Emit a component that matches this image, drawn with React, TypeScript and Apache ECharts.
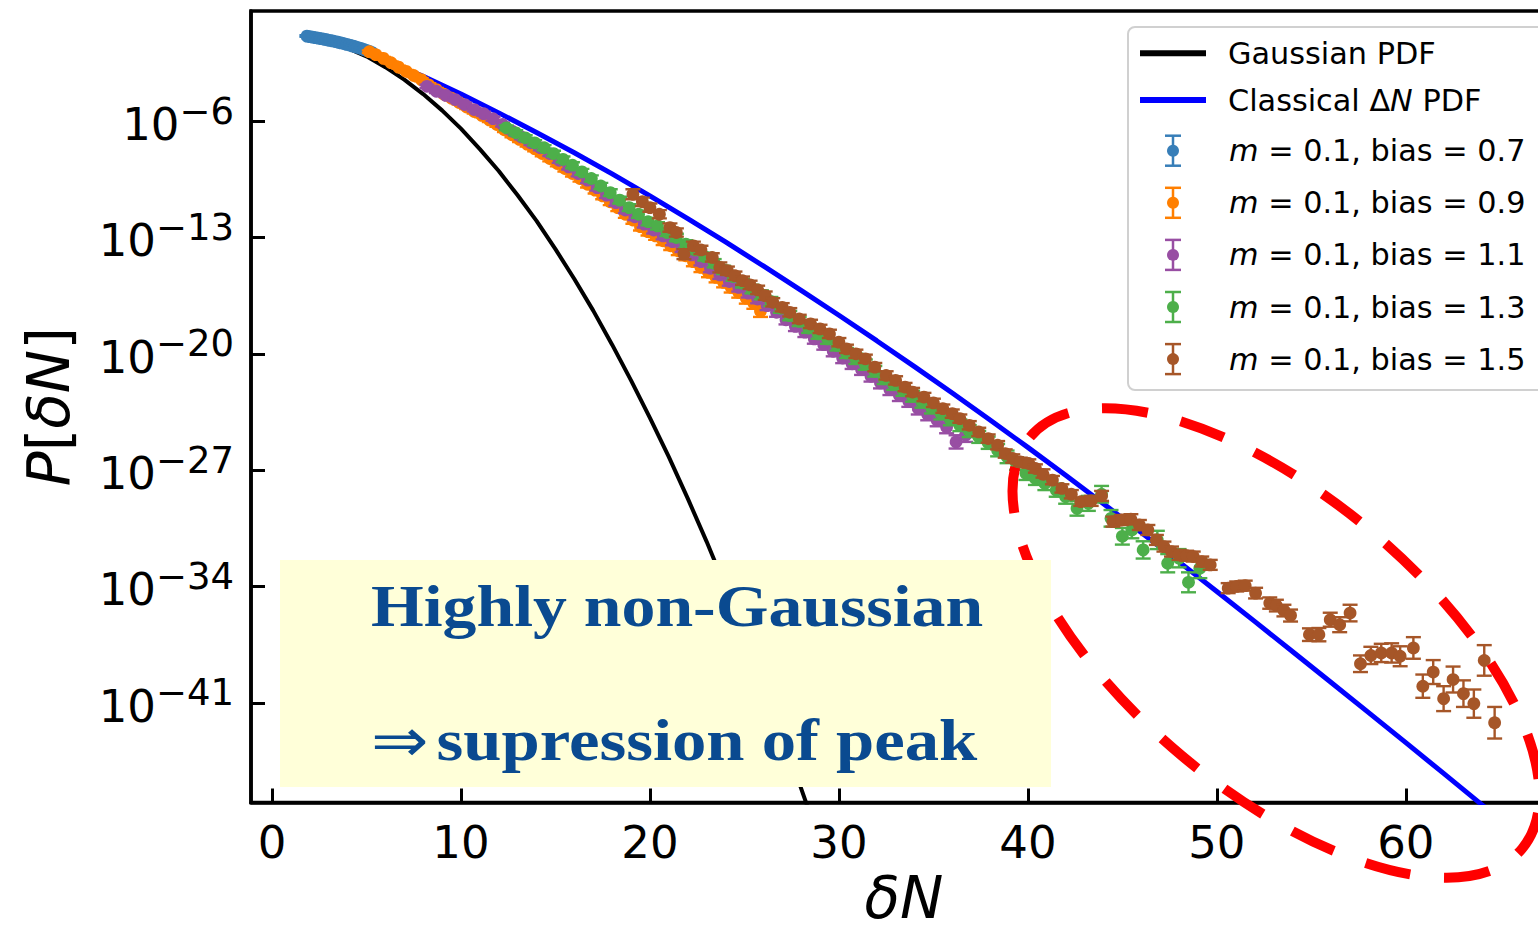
import React, { useEffect, useRef } from "react";
import * as echarts from "echarts";

// ---------- data (y values are log10 P) ----------
const xTicks = [0, 10, 20, 30, 40, 50, 60];
const yTicks = [-41, -34, -27, -20, -13, -6];

const gaussianPDF: number[][] = [
  [2, -0.9], [3, -1.18], [4, -1.6], [5, -2.1], [6, -2.75], [7, -3.5], [8, -4.37], [9, -5.35],
  [10, -6.45], [11, -7.68], [12, -9.0], [13, -10.46], [14, -12.0], [15, -13.7], [16, -15.5],
  [17, -17.4], [18, -19.45], [19, -21.6], [20, -23.85], [21, -26.2], [22, -28.7], [23, -31.3],
  [24, -34.05], [25, -36.9], [26, -39.85], [27, -42.95], [28, -46.15], [29, -49.4],
];

const classicalPDF: number[][] = [
  [2, -0.9], [4, -1.54], [6, -2.36], [8, -3.3], [10, -4.36], [12, -5.5], [14, -6.68], [16, -7.9],
  [18, -9.17], [20, -10.49], [22, -11.86], [24, -13.27], [26, -14.71], [28, -16.18], [30, -17.68],
  [32, -19.21], [34, -20.77], [36, -22.36], [38, -23.98], [40, -25.63], [42, -27.31], [44, -29.02],
  [46, -30.76], [48, -32.52], [50, -34.3], [52, -36.1], [54, -37.91], [56, -39.73], [58, -41.56],
  [60, -43.4], [62, -45.25], [64, -47.11], [66, -48.98],
];

// [x, log10 P, error half-width in decades]
const bias07: number[][] = [
  [1.85, -0.88, 0.05], [2.0, -0.91, 0.05], [2.15, -0.94, 0.05], [2.3, -0.97, 0.05], [2.45, -1.0, 0.05],
  [2.6, -1.03, 0.05], [2.75, -1.07, 0.05], [2.9, -1.1, 0.05], [3.05, -1.14, 0.05], [3.2, -1.17, 0.05],
  [3.35, -1.21, 0.05], [3.5, -1.25, 0.06], [3.65, -1.29, 0.06], [3.8, -1.33, 0.06], [3.95, -1.38, 0.06],
  [4.1, -1.42, 0.06], [4.25, -1.47, 0.06], [4.4, -1.52, 0.07], [4.55, -1.57, 0.07], [4.7, -1.62, 0.07],
  [4.85, -1.68, 0.08], [5.0, -1.74, 0.08], [5.15, -1.8, 0.09], [5.3, -1.87, 0.1],
];

const bias09: number[][] = [
  [5.15, -1.82, 0.08], [5.5, -2.0, 0.08], [5.9, -2.22, 0.08], [6.3, -2.48, 0.08], [6.7, -2.75, 0.09],
  [7.1, -3.0, 0.09], [7.5, -3.25, 0.1], [7.9, -3.5, 0.1], [8.3, -3.82, 0.1], [8.7, -4.1, 0.1],
  [9.1, -4.38, 0.1], [9.5, -4.62, 0.12], [9.9, -4.88, 0.12], [10.3, -5.15, 0.12], [10.7, -5.42, 0.12],
  [11.1, -5.65, 0.12], [11.5, -5.92, 0.14], [11.9, -6.2, 0.14], [12.3, -6.52, 0.14], [12.7, -6.82, 0.15],
  [13.1, -7.1, 0.15], [13.5, -7.38, 0.15], [13.9, -7.65, 0.16], [14.3, -7.95, 0.16], [14.7, -8.25, 0.17],
  [15.1, -8.55, 0.17], [15.5, -8.85, 0.18], [15.9, -9.15, 0.18], [16.3, -9.45, 0.19], [16.7, -9.8, 0.19],
  [17.1, -10.15, 0.2], [17.5, -10.5, 0.2], [17.9, -10.85, 0.2], [18.3, -11.2, 0.21], [18.7, -11.6, 0.22],
  [19.1, -11.95, 0.22], [19.5, -12.35, 0.23], [19.9, -12.65, 0.23], [20.3, -12.9, 0.24], [20.7, -13.2, 0.25],
  [21.1, -13.5, 0.25], [21.5, -13.8, 0.26], [21.9, -14.1, 0.27], [22.3, -14.45, 0.28], [22.7, -14.8, 0.28],
  [23.1, -15.1, 0.29], [23.5, -15.4, 0.3], [23.9, -15.7, 0.3], [24.3, -16.0, 0.31], [24.7, -16.3, 0.32],
  [25.1, -16.65, 0.33], [25.5, -16.95, 0.34], [25.85, -17.43, 0.35],
];

const bias11: number[][] = [
  [8.2, -3.9, 0.1], [8.7, -4.2, 0.1], [9.2, -4.45, 0.1], [9.7, -4.7, 0.1], [10.2, -5.0, 0.11],
  [10.7, -5.3, 0.11], [11.2, -5.55, 0.12], [11.7, -5.85, 0.12], [12.2, -6.2, 0.13], [12.7, -6.6, 0.13],
  [13.2, -6.95, 0.14], [13.7, -7.3, 0.14], [14.2, -7.6, 0.15], [14.7, -7.95, 0.15], [15.2, -8.35, 0.16],
  [15.7, -8.75, 0.16], [16.2, -9.15, 0.17], [16.7, -9.55, 0.17], [17.2, -10.0, 0.18], [17.7, -10.45, 0.18],
  [18.2, -10.9, 0.19], [18.7, -11.35, 0.19], [19.2, -11.75, 0.2], [19.7, -12.2, 0.2], [20.2, -12.55, 0.21],
  [20.7, -12.9, 0.21], [21.2, -13.25, 0.22], [21.7, -13.65, 0.22], [22.2, -14.05, 0.23], [22.7, -14.45, 0.23],
  [23.2, -14.85, 0.24], [23.7, -15.25, 0.24], [24.2, -15.65, 0.25], [24.7, -16.0, 0.25], [25.2, -16.35, 0.26],
  [25.7, -16.7, 0.26], [26.2, -17.1, 0.27], [26.7, -17.5, 0.27], [27.2, -17.95, 0.28], [27.7, -18.35, 0.28],
  [28.2, -18.7, 0.29], [28.7, -19.1, 0.29], [29.2, -19.45, 0.3], [29.7, -19.85, 0.3], [30.2, -20.25, 0.31],
  [30.7, -20.6, 0.31], [31.2, -20.95, 0.32], [31.7, -21.35, 0.32], [32.2, -21.75, 0.33], [32.7, -22.15, 0.33],
  [33.2, -22.5, 0.34], [33.7, -22.85, 0.34], [34.2, -23.3, 0.35], [34.7, -23.65, 0.35], [35.2, -24.0, 0.36],
  [35.7, -24.4, 0.38], [36.2, -25.3, 0.4], [36.7, -24.9, 0.4],
];

const bias13: number[][] = [
  [12.4, -6.4, 0.15], [12.9, -6.7, 0.15], [13.4, -7.0, 0.15], [13.9, -7.3, 0.16], [14.4, -7.6, 0.16],
  [14.9, -7.95, 0.17], [15.4, -8.3, 0.17], [15.9, -8.65, 0.18], [16.4, -9.05, 0.18], [16.9, -9.45, 0.19],
  [17.4, -9.9, 0.19], [17.9, -10.3, 0.2], [18.4, -10.75, 0.2], [18.9, -11.2, 0.21], [19.4, -11.6, 0.21],
  [19.9, -12.05, 0.22], [20.4, -12.3, 0.22], [20.9, -12.7, 0.22], [21.4, -13.0, 0.23], [21.9, -13.4, 0.23],
  [22.4, -13.75, 0.24], [22.9, -14.15, 0.24], [23.4, -14.55, 0.25], [23.9, -14.95, 0.25], [24.4, -15.35, 0.25],
  [24.9, -15.75, 0.26], [25.4, -16.1, 0.26], [25.9, -16.45, 0.27], [26.4, -16.85, 0.27], [26.9, -17.25, 0.28],
  [27.4, -17.7, 0.28], [27.9, -18.05, 0.28], [28.4, -18.45, 0.29], [28.9, -18.8, 0.29], [29.4, -19.1, 0.3],
  [29.9, -19.5, 0.3], [30.4, -19.95, 0.3], [30.9, -20.3, 0.31], [31.4, -20.65, 0.31], [31.9, -21.05, 0.32],
  [32.4, -21.5, 0.32], [32.9, -21.85, 0.32], [33.4, -22.2, 0.33], [33.9, -22.55, 0.33], [34.4, -22.9, 0.34],
  [34.9, -23.25, 0.34], [35.4, -23.6, 0.35], [35.9, -23.95, 0.35], [36.4, -24.3, 0.35], [36.9, -24.65, 0.36],
  [37.4, -25.0, 0.36], [37.9, -25.35, 0.37], [38.4, -25.8, 0.37], [38.9, -26.2, 0.38], [39.4, -26.6, 0.38],
  [39.9, -27.2, 0.39], [40.4, -27.5, 0.39], [40.9, -27.8, 0.4], [41.5, -28.2, 0.4], [42.0, -28.6, 0.42],
  [42.6, -29.3, 0.44], [43.2, -29.0, 0.45], [43.9, -28.45, 0.5], [44.4, -29.9, 0.5], [45.0, -30.98, 0.5],
  [45.5, -30.6, 0.5], [46.1, -31.8, 0.52], [46.85, -31.2, 0.55], [47.4, -32.6, 0.55], [48.0, -32.3, 0.55],
  [48.5, -33.75, 0.6], [49.1, -32.9, 0.6],
];

const bias15: number[][] = [
  [19.1, -10.4, 0.3], [19.6, -10.85, 0.25], [20.0, -11.2, 0.25], [20.5, -11.6, 0.25], [21.06, -12.4, 0.25],
  [21.4, -12.7, 0.25], [21.8, -14.0, 0.3], [22.3, -13.5, 0.25], [22.7, -13.75, 0.25], [23.3, -14.2, 0.25],
  [23.7, -14.8, 0.3], [24.1, -15.0, 0.25], [24.5, -15.3, 0.25], [24.9, -15.6, 0.25], [25.3, -15.85, 0.25],
  [25.7, -16.15, 0.25], [26.1, -16.5, 0.25], [26.5, -16.9, 0.25], [27.0, -17.2, 0.25], [27.4, -17.5, 0.25],
  [27.9, -17.9, 0.25], [28.5, -18.2, 0.25], [29.0, -18.5, 0.25], [29.5, -18.8, 0.25], [30.0, -19.3, 0.25],
  [30.4, -19.7, 0.25], [30.9, -20.0, 0.25], [31.4, -20.3, 0.25], [31.9, -20.8, 0.25], [32.5, -21.3, 0.25],
  [33.0, -21.6, 0.25], [33.5, -22.0, 0.25], [33.9, -22.3, 0.25], [34.5, -22.6, 0.25], [35.0, -22.95, 0.25],
  [35.5, -23.3, 0.25], [36.0, -23.6, 0.25], [36.4, -23.9, 0.25], [36.9, -24.3, 0.25], [37.4, -24.7, 0.25],
  [37.9, -25.1, 0.25], [38.4, -25.5, 0.25], [38.8, -26.0, 0.25], [39.2, -26.3, 0.25], [39.6, -26.5, 0.25],
  [40.05, -26.6, 0.25], [40.4, -26.9, 0.25], [40.8, -27.2, 0.25], [41.3, -27.6, 0.25], [41.8, -28.1, 0.25],
  [42.3, -28.45, 0.25], [42.8, -28.9, 0.25], [43.35, -28.85, 0.3], [43.9, -28.55, 0.3], [44.5, -30.1, 0.3],
  [44.95, -30.0, 0.3], [45.45, -29.95, 0.3], [45.9, -30.3, 0.3], [46.35, -30.6, 0.3], [46.8, -31.2, 0.3],
  [47.2, -31.6, 0.3], [47.6, -31.9, 0.3], [48.0, -32.1, 0.3], [48.4, -32.15, 0.3], [48.75, -32.2, 0.3],
  [49.2, -32.5, 0.3], [49.65, -32.7, 0.3], [50.6, -34.1, 0.3], [51.05, -34.0, 0.3], [51.5, -33.95, 0.3],
  [52.05, -34.4, 0.32], [52.8, -35.0, 0.34], [53.15, -35.15, 0.35], [53.55, -35.45, 0.35], [53.9, -35.75, 0.36],
  [54.9, -36.9, 0.38], [55.4, -36.9, 0.4], [56.0, -36.0, 0.42], [56.5, -36.3, 0.45], [57.05, -35.6, 0.5],
  [57.6, -38.65, 0.5], [58.15, -38.15, 0.52], [58.7, -38.0, 0.55], [59.25, -38.0, 0.58], [59.7, -38.2, 0.6],
  [60.4, -37.7, 0.65], [60.9, -40.0, 0.7], [61.45, -39.15, 0.72], [62.0, -40.75, 0.75], [62.5, -39.6, 0.78],
  [63.05, -40.45, 0.8], [63.6, -41.05, 0.85], [64.15, -38.45, 0.92], [64.7, -42.2, 0.95],
];

const lineNames = ["Gaussian PDF", "Classical ΔN PDF"];
const errNames = [
  "m = 0.1, bias = 0.7",
  "m = 0.1, bias = 0.9",
  "m = 0.1, bias = 1.1",
  "m = 0.1, bias = 1.3",
  "m = 0.1, bias = 1.5",
];
const errData = [bias07, bias09, bias11, bias13, bias15];
const errColors = ["#377eb8", "#ff7f00", "#984ea3", "#4daf4a", "#a65628"];
const lineColors = ["#000000", "#0000ff"];

const legendRich = {
  t: { fontFamily: "DejaVu Sans", fontSize: 30.3, fill: "#000", color: "#000" },
  i: { fontFamily: "DejaVu Sans", fontStyle: "italic", fontSize: 30.3, fill: "#000", color: "#000" },
};

function legendLabel(name: string): string {
  if (name === "Classical ΔN PDF") return "{t|Classical Δ}{i|N}{t| PDF}";
  if (name.startsWith("m = ")) return "{i|m}{t|" + name.slice(1) + "}";
  return "{t|" + name + "}";
}

function buildLegend(): any[] {
  const els: any[] = [];
  els.push({
    type: "rect",
    x: 1128,
    y: 27,
    z: 40,
    shape: { x: 0, y: 0, width: 430, height: 363, r: 7 },
    style: { fill: "rgba(255,255,255,0.85)", stroke: "#d0d0d0", lineWidth: 2 },
  });
  const lineYs = [53.3, 100];
  lineNames.forEach((n, i) => {
    els.push({
      type: "line",
      z: 41,
      shape: { x1: 1140, y1: lineYs[i], x2: 1206, y2: lineYs[i] },
      style: { stroke: lineColors[i], lineWidth: 6 },
    });
    els.push({
      type: "text",
      x: 1228,
      y: lineYs[i],
      z: 41,
      style: { text: legendLabel(n), rich: legendRich, align: "left", verticalAlign: "middle" },
    });
  });
  errNames.forEach((n, i) => {
    const cy = 150.7 + 52.1 * i;
    const c = errColors[i];
    const ls = { stroke: c, lineWidth: 2.5 };
    els.push({ type: "line", z: 41, shape: { x1: 1173, y1: cy - 15, x2: 1173, y2: cy + 15 }, style: ls });
    els.push({ type: "line", z: 41, shape: { x1: 1165, y1: cy - 15, x2: 1181, y2: cy - 15 }, style: ls });
    els.push({ type: "line", z: 41, shape: { x1: 1165, y1: cy + 15, x2: 1181, y2: cy + 15 }, style: ls });
    els.push({ type: "circle", z: 41, shape: { cx: 1173, cy, r: 6 }, style: { fill: c } });
    els.push({
      type: "text",
      x: 1229,
      y: cy,
      z: 41,
      style: { text: legendLabel(n), rich: legendRich, align: "left", verticalAlign: "middle" },
    });
  });
  return els;
}

function renderErr(params: any, api: any) {
  const x = api.value(0);
  const y = api.value(1);
  const e = api.value(2);
  const c = api.coord([x, y]);
  const top = api.coord([x, y + e])[1];
  const bot = api.coord([x, y - e])[1];
  const color = api.visual("color");
  const ls = { stroke: color, lineWidth: 2.4 };
  return {
    type: "group",
    children: [
      { type: "line", shape: { x1: c[0], y1: top, x2: c[0], y2: bot }, style: ls },
      { type: "line", shape: { x1: c[0] - 7.5, y1: top, x2: c[0] + 7.5, y2: top }, style: ls },
      { type: "line", shape: { x1: c[0] - 7.5, y1: bot, x2: c[0] + 7.5, y2: bot }, style: ls },
      { type: "circle", shape: { cx: c[0], cy: c[1], r: 6.4 }, style: { fill: color } },
    ],
  };
}

export default function App() {
  const ref = useRef<HTMLDivElement>(null);

  useEffect(() => {
    if (!ref.current) return;
    const chart = echarts.init(ref.current, null, { renderer: "svg" });

    const series: any[] = [
      {
        name: lineNames[0],
        type: "line",
        data: gaussianPDF,
        symbol: "none",
        lineStyle: { color: lineColors[0], width: 4 },
        itemStyle: { color: lineColors[0] },
        z: 2,
      },
      {
        name: lineNames[1],
        type: "line",
        data: classicalPDF,
        symbol: "none",
        lineStyle: { color: lineColors[1], width: 5 },
        itemStyle: { color: lineColors[1] },
        z: 2,
      },
      ...errData.map((d, i) => ({
        name: errNames[i],
        type: "custom",
        data: d,
        encode: { x: 0, y: 1 },
        renderItem: renderErr,
        itemStyle: { color: errColors[i] },
        clip: true,
        z: 3,
      })),
    ];

    const option: any = {
      animation: false,
      backgroundColor: "#ffffff",
      textStyle: { fontFamily: "DejaVu Sans" },
      grid: {
        left: 251,
        top: 11,
        right: -19,
        bottom: 128.5,
        containLabel: false,
        outerBoundsMode: "none",
        show: true,
        borderColor: "#000",
        borderWidth: 3.5,
        backgroundColor: "transparent",
      },
      xAxis: {
        type: "value",
        min: -1.11,
        max: 68,
        name: "{i|δN}",
        nameLocation: "middle",
        nameGap: 66,
        nameTextStyle: {
          rich: { i: { fontFamily: "DejaVu Sans", fontStyle: "italic", fontSize: 58, color: "#000", lineHeight: 58 } },
        },
        axisLine: { show: true, onZero: false, lineStyle: { color: "#000", width: 3.5 } },
        axisTick: { show: true, inside: true, length: 14, customValues: xTicks, lineStyle: { color: "#000", width: 3 } },
        axisLabel: {
          customValues: xTicks,
          margin: 17,
          fontSize: 45,
          fontFamily: "DejaVu Sans",
          color: "#000",
        },
        splitLine: { show: false },
      },
      yAxis: {
        type: "value",
        min: -47,
        max: 0.63,
        name: "{i|P}{n|[}{i|δN}{n|]}",
        nameLocation: "middle",
        nameGap: 173,
        nameTextStyle: {
          rich: {
            i: { fontFamily: "DejaVu Sans", fontStyle: "italic", fontSize: 58, color: "#000", lineHeight: 58 },
            n: { fontFamily: "DejaVu Sans", fontSize: 58, color: "#000", lineHeight: 58 },
          },
        },
        axisLine: { show: true, onZero: false, lineStyle: { color: "#000", width: 3.5 } },
        axisTick: { show: true, inside: true, length: 14, customValues: yTicks, lineStyle: { color: "#000", width: 3 } },
        axisLabel: {
          customValues: yTicks,
          margin: 17,
          formatter: (v: number) => "{b|10}{s|−" + Math.round(-v) + "}",
          rich: {
            b: {
              fontSize: 45, fontFamily: "DejaVu Sans", color: "#000",
              verticalAlign: "middle", lineHeight: 45, padding: [7, 0, 0, 0],
            },
            s: {
              fontSize: 37, fontFamily: "DejaVu Sans", color: "#000",
              verticalAlign: "middle", lineHeight: 37, padding: [0, 0, 20, 0],
            },
          },
        },
        splitLine: { show: false },
      },
      graphic: [
        ...buildLegend(),
        {
          type: "ellipse",
          x: 1276,
          y: 643,
          rotation: -0.697,
          z: 50,
          shape: { cx: 0, cy: 0, rx: 320.7, ry: 146.9 },
          style: { fill: "none", stroke: "#ff0000", lineWidth: 10, lineDash: [46, 34] },
        },
        {
          type: "rect",
          x: 280,
          y: 560,
          z: 60,
          shape: { x: 0, y: 0, width: 771, height: 227 },
          style: { fill: "#ffffd9" },
        },
        {
          type: "text",
          x: 371,
          y: 606,
          z: 61,
          scaleX: 1.13,
          style: {
            text: "Highly non-Gaussian",
            fontFamily: "Liberation Serif",
            fontWeight: "bold",
            fontSize: 60,
            fill: "#0a4a90",
            align: "left",
            verticalAlign: "middle",
          },
        },
        {
          type: "text",
          x: 371,
          y: 740,
          z: 61,
          scaleX: 1.145,
          style: {
            text: "{a|⇒}{t|supression of peak}",
            align: "left",
            verticalAlign: "middle",
            rich: {
              a: { fontFamily: "DejaVu Sans", fontSize: 60, fill: "#0a4a90", color: "#0a4a90", padding: [0, 7, 0, 0] },
              t: { fontFamily: "Liberation Serif", fontWeight: "bold", fontSize: 60, fill: "#0a4a90", color: "#0a4a90" },
            },
          },
        },
      ],
      series,
    };

    chart.setOption(option);
    return () => chart.dispose();
  }, []);

  return (
    <div
      ref={ref}
      style={{ position: "absolute", left: 0, top: 0, width: 1538, height: 931, background: "#fff" }}
    />
  );
}
